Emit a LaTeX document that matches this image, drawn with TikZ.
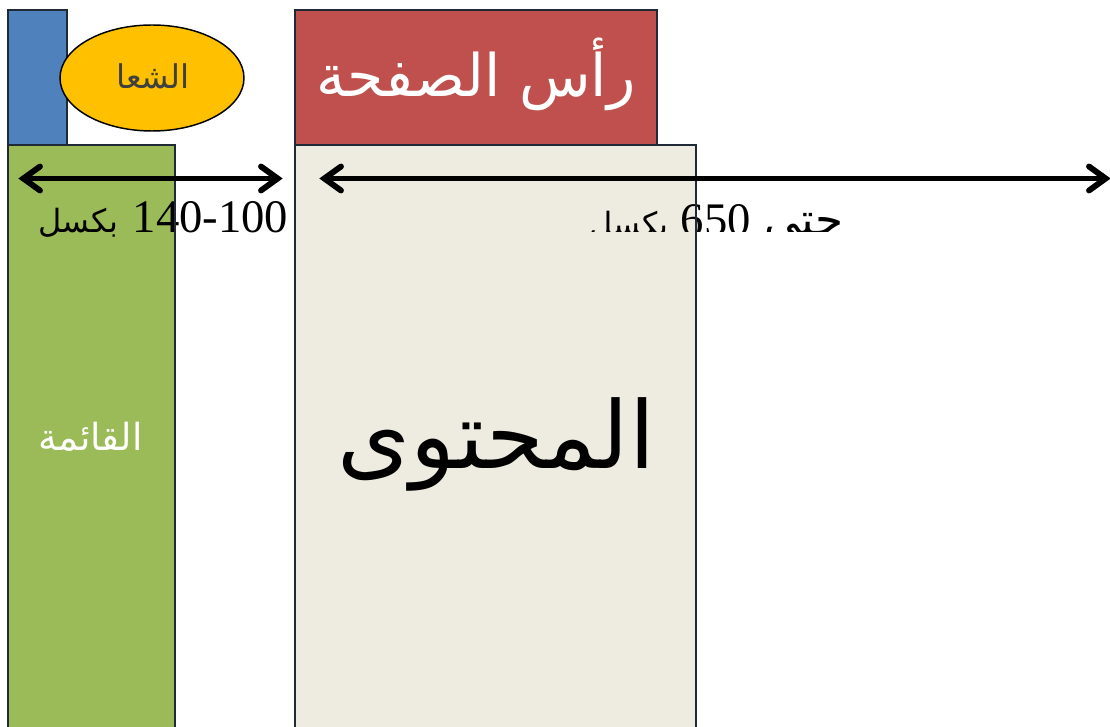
\documentclass[tikz,border=0pt]{standalone}
\usepackage{fontspec}
\usetikzlibrary{arrows.meta,shapes.geometric}
\setmainfont{Liberation Serif}
\newfontfamily\arabicfont[Script=Arabic]{DejaVu Sans}
\TeXXeTstate=1
\definecolor{cblue}{HTML}{4F81BD}
\definecolor{cgreen}{HTML}{9BBB59}
\definecolor{cred}{HTML}{C0504D}
\definecolor{cbeige}{HTML}{EEECE1}
\definecolor{cyellow}{HTML}{FFC000}
\definecolor{cedge}{HTML}{1F2A36}
\pgfdeclarearrow{
  name=Chevron,
  setup code={
    \pgfarrowssettipend{0pt}
    \pgfarrowssetlineend{-6pt}
    \pgfarrowssetbackend{-18pt}
    \pgfarrowssetvisualbackend{-6pt}
  },
  drawing code={
    \pgfsetlinewidth{4.4pt}
    \pgfsetroundcap
    \pgfsetmiterjoin
    \pgfpathmoveto{\pgfqpoint{-16.5pt}{9pt}}
    \pgfpathlineto{\pgfqpoint{-4pt}{0pt}}
    \pgfpathlineto{\pgfqpoint{-16.5pt}{-9pt}}
    \pgfusepathqstroke
  }
}
\tikzset{
  panel/.style={draw=cedge,line width=1.1pt,inner sep=0pt,outer sep=0pt,anchor=north west},
  dimarrow/.style={line width=4.4pt,black,Chevron-Chevron},
  label/.style={inner sep=0pt,outer sep=0pt,text depth=0pt}
}
\begin{document}
\begin{tikzpicture}[x=0.75pt,y=-0.75pt]
\clip (0,0) rectangle (1110,727);
\useasboundingbox (0,0) rectangle (1110,727);
\fill[white] (0,0) rectangle (1110,727);
% boxes
\node[panel,fill=cblue,minimum width=44.25pt,minimum height=101.25pt] (blue) at (8,10) {};
\node[panel,fill=cgreen,minimum width=125.25pt,minimum height=450pt] (menu) at (8,145) {};
\node[panel,fill=cred,minimum width=271.5pt,minimum height=101.25pt] (head) at (295,10) {};
\node[panel,fill=cbeige,minimum width=300.75pt,minimum height=450pt] (body) at (295,145) {};
\node[draw=black,line width=1.1pt,fill=cyellow,ellipse,inner sep=0pt,minimum width=138pt,minimum height=79.5pt] (logo) at (152,78) {};
% texts
\node[label,text=black!75] (logotext) at (153,76) {\fontsize{24.5}{28}\selectfont\arabicfont\beginR الشعا\endR};
\node[label,text=white] (headtext) at (476,67) {\fontsize{44}{52}\selectfont\arabicfont\beginR رأس الصفحة\endR};
\node[label,text=white] (menutext) at (90.5,436) {\fontsize{28}{32}\selectfont\arabicfont\beginR القائمة\endR};
\node[label,text=black] (bodytext) at (496,433) {\fontsize{70}{80}\selectfont\arabicfont\beginR المحتوى\endR};
\node[label,text=black,anchor=base] (w1) at (163.5,233) {\fontsize{35}{40}\selectfont\beginR{\beginL 140-100\endL}\hspace{11pt}{\fontsize{24}{30}\selectfont\arabicfont بكسل}\endR};
\begin{scope}
\clip (560,190) rectangle (860,232);
\node[label,text=black,anchor=base] (w2) at (716.5,236) {\fontsize{35}{40}\selectfont\beginR{\fontsize{34}{30}\selectfont\arabicfont حتى}\hspace{10pt}{\beginL 650\endL}\hspace{9pt}{\fontsize{24}{30}\selectfont\arabicfont بكسل}\endR};
\end{scope}
% box edges over texts
\draw[cedge,line width=1.1pt] (menu.north east) -- (menu.south east);
\draw[cedge,line width=1.1pt] (body.north east) -- (body.south east);
% arrows
\coordinate (a1) at (18,178.5);
\coordinate (a2) at (283,178.5);
\coordinate (b1) at (319,178.5);
\coordinate (b2) at (1111,178.5);
\draw[dimarrow] (a1) -- (a2);
\draw[dimarrow] (b1) -- (b2);
\end{tikzpicture}
\end{document}
